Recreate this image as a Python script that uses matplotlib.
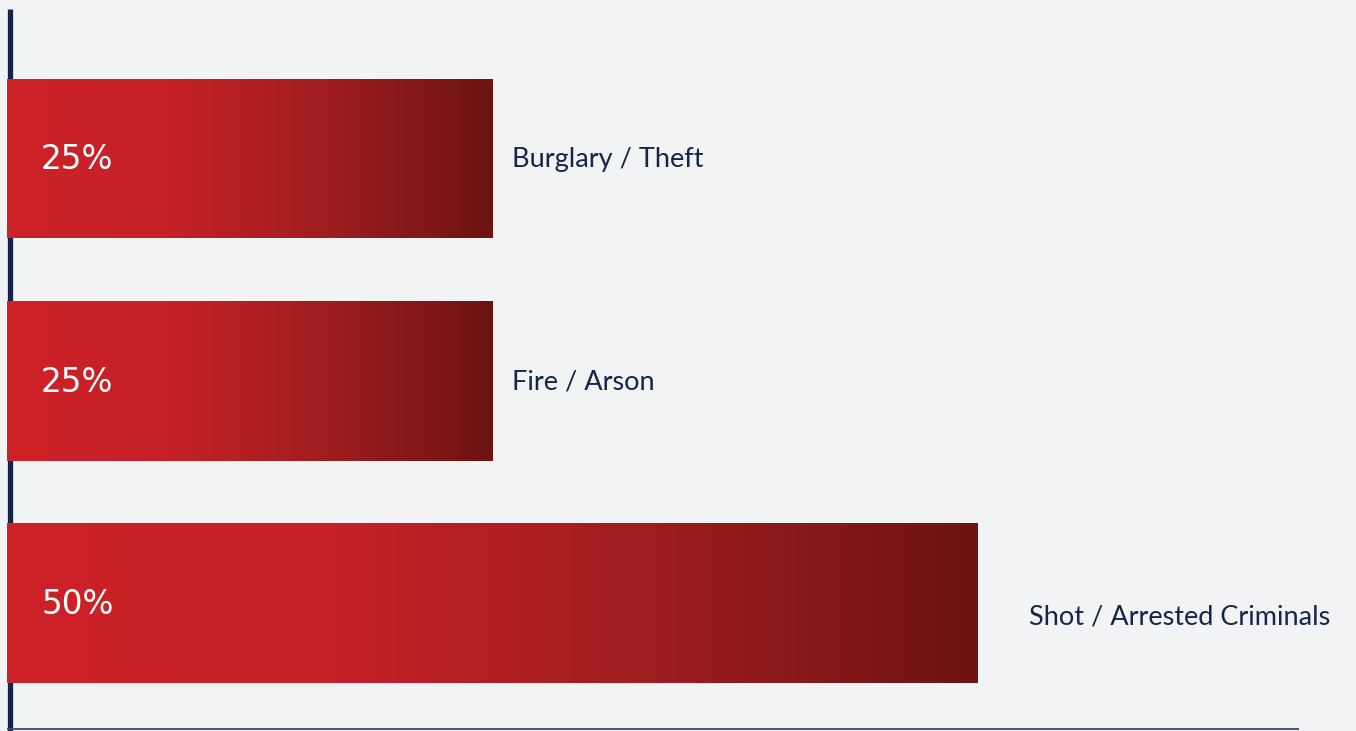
import numpy as np
import matplotlib as mpl
import matplotlib.pyplot as plt
from matplotlib.colors import LinearSegmentedColormap

categories = ['Burglary / Theft', 'Fire / Arson', 'Shot / Arrested Criminals']
values = [25, 25, 50]
value_labels = ['25%', '25%', '50%']

bg = '#f2f3f5'
navy = '#14264a'
grad = LinearSegmentedColormap.from_list('redgrad', ['#cd2128', '#c52127', '#9e1d1f', '#6d1410'])

W, H = 13.56, 7.31
fig = plt.figure(figsize=(W, H), dpi=100)
fig.patch.set_facecolor(bg)
ax = fig.add_axes([0, 0, 1, 1])
ax.set_facecolor(bg)

# pixel mapping: x0 at 7 px, 19.4 px per unit; rows 222.5 px apart
px_unit = 19.4
x0 = 7
ax.set_xlim(-x0 / px_unit, (1356 - x0) / px_unit)
row = 222.5
yc0 = 159
ax.set_ylim((731 - yc0) / row, -yc0 / row)
bar_h = 159 / row

grad_img = np.linspace(0, 1, 256).reshape(1, -1)
for i, (v, cat, lab) in enumerate(zip(values, categories, value_labels)):
    ax.imshow(grad_img, cmap=grad, aspect='auto', interpolation='bilinear',
              extent=(0, v, i + bar_h / 2, i - bar_h / 2), zorder=2)
    ax.text(34 / px_unit, i + 1 / row, lab, color='white', fontsize=23.5,
            family='DejaVu Sans', va='center', ha='left', zorder=3)
    dx = 20 if i < 2 else 52
    dy = 1 if i < 2 else 13
    ax.text(v + dx / px_unit, i + dy / row, cat, color=navy, fontsize=19.5,
            family='Lato', va='center', ha='left', zorder=3)

# left axis line and bottom line
ax.plot([-x0 / px_unit + 9.5 / px_unit] * 2, [(9 - yc0) / row, (731 - yc0) / row],
        color='#13254a', lw=3.8, solid_capstyle='butt', zorder=1)
ax.plot([0, (1299 - x0) / px_unit], [(729.5 - yc0) / row] * 2,
        color='#3b4a6b', lw=1.3, solid_capstyle='butt', zorder=1)

ax.set_axis_off()
fig.savefig('out.png', dpi=100, facecolor=bg)
